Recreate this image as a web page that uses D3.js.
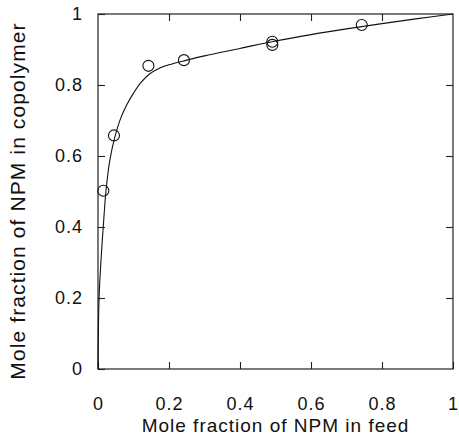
<!DOCTYPE html>
<html>
<head>
<meta charset="utf-8">
<script src="https://cdn.jsdelivr.net/npm/d3@7"></script>
<style>
  body { margin: 0; background: #fff; }
  text { font-family: "Liberation Sans", Arial, sans-serif; fill: #111; }
</style>
</head>
<body>
<script>
// measured points (feed fraction, copolymer fraction)
const feedPts = [0.015, 0.045, 0.142, 0.242, 0.491, 0.491, 0.743];
const copolyPts = [0.502, 0.658, 0.854, 0.870, 0.922, 0.913, 0.969];

// fitted curve
const curveFeed = [0, 0.001, 0.003, 0.0085, 0.015, 0.0225, 0.034, 0.048, 0.062, 0.08, 0.1, 0.12, 0.145, 0.17, 0.2, 0.25, 0.3, 0.4, 0.5, 0.6, 0.7, 0.8, 0.9, 1.0];
const curveCopoly = [0, 0.1, 0.2, 0.307, 0.403, 0.502, 0.592, 0.655, 0.701, 0.742, 0.777, 0.806, 0.831, 0.846, 0.857, 0.87, 0.882, 0.903, 0.924, 0.942, 0.958, 0.973, 0.987, 1.0];

const xTicks = [0, 0.2, 0.4, 0.6, 0.8, 1];
const yTicks = [0, 0.2, 0.4, 0.6, 0.8, 1];

const width = 459;
const height = 435;
const plotLeft = 98, plotRight = 453, plotTop = 14, plotBottom = 369;
const tickLen = 7;

const svg = d3.select('body').append('svg').attr('width', width).attr('height', height);

const x = d3.scaleLinear().domain([0, 1]).range([plotLeft, plotRight]);
const y = d3.scaleLinear().domain([0, 1]).range([plotBottom, plotTop]);

// frame
svg.append('rect')
  .attr('x', plotLeft).attr('y', plotTop)
  .attr('width', plotRight - plotLeft).attr('height', plotBottom - plotTop)
  .attr('fill', 'none').attr('stroke', '#222').attr('stroke-width', 1.2);

// inward ticks, all four sides
const axisStyle = (g) => {
  g.select('.domain').remove();
  g.selectAll('.tick line').attr('stroke', '#222').attr('stroke-width', 1.1);
  g.selectAll('text')
    .attr('font-size', 18)
    .attr('letter-spacing', 1)
    .attr('font-family', 'Liberation Sans, Arial, sans-serif')
    .attr('fill', '#111');
};

svg.append('g')
  .attr('transform', `translate(0,${plotBottom})`)
  .call(d3.axisBottom(x).tickValues(xTicks).tickSize(-tickLen).tickPadding(28).tickFormat(d3.format('')))
  .call(axisStyle);

svg.append('g')
  .attr('transform', `translate(0,${plotTop})`)
  .call(d3.axisTop(x).tickValues(xTicks.slice(1, -1)).tickSize(-tickLen).tickFormat(''))
  .call(axisStyle);

svg.append('g')
  .attr('transform', `translate(${plotLeft},0)`)
  .call(d3.axisLeft(y).tickValues(yTicks).tickSize(-tickLen).tickPadding(15).tickFormat(d3.format('')))
  .call(axisStyle);

svg.append('g')
  .attr('transform', `translate(${plotRight},0)`)
  .call(d3.axisRight(y).tickValues(yTicks.slice(1, -1)).tickSize(-tickLen).tickFormat(''))
  .call(axisStyle);

// fitted curve
const curveData = curveFeed.map((f, i) => [f, curveCopoly[i]]);
svg.append('path')
  .datum(curveData)
  .attr('fill', 'none')
  .attr('stroke', '#111')
  .attr('stroke-width', 1.1)
  .attr('d', d3.line().x((d) => x(d[0])).y((d) => y(d[1])).curve(d3.curveCatmullRom.alpha(0.5)));

// measured points
svg.selectAll('circle.pt')
  .data(feedPts.map((f, i) => [f, copolyPts[i]]))
  .enter()
  .append('circle')
  .attr('class', 'pt')
  .attr('cx', (d) => x(d[0]))
  .attr('cy', (d) => y(d[1]))
  .attr('r', 5.5)
  .attr('fill', 'none')
  .attr('stroke', '#111')
  .attr('stroke-width', 1.1);

// axis titles
svg.append('text')
  .attr('x', (plotLeft + plotRight) / 2)
  .attr('y', 432)
  .attr('text-anchor', 'middle')
  .attr('font-size', 19)
  .attr('letter-spacing', 1)
  .text('Mole fraction of NPM in feed');

svg.append('text')
  .attr('transform', `translate(25,201) rotate(-90)`)
  .attr('text-anchor', 'middle')
  .attr('font-size', 21)
  .attr('letter-spacing', 1.1)
  .text('Mole fraction of NPM in copolymer');
</script>
</body>
</html>
